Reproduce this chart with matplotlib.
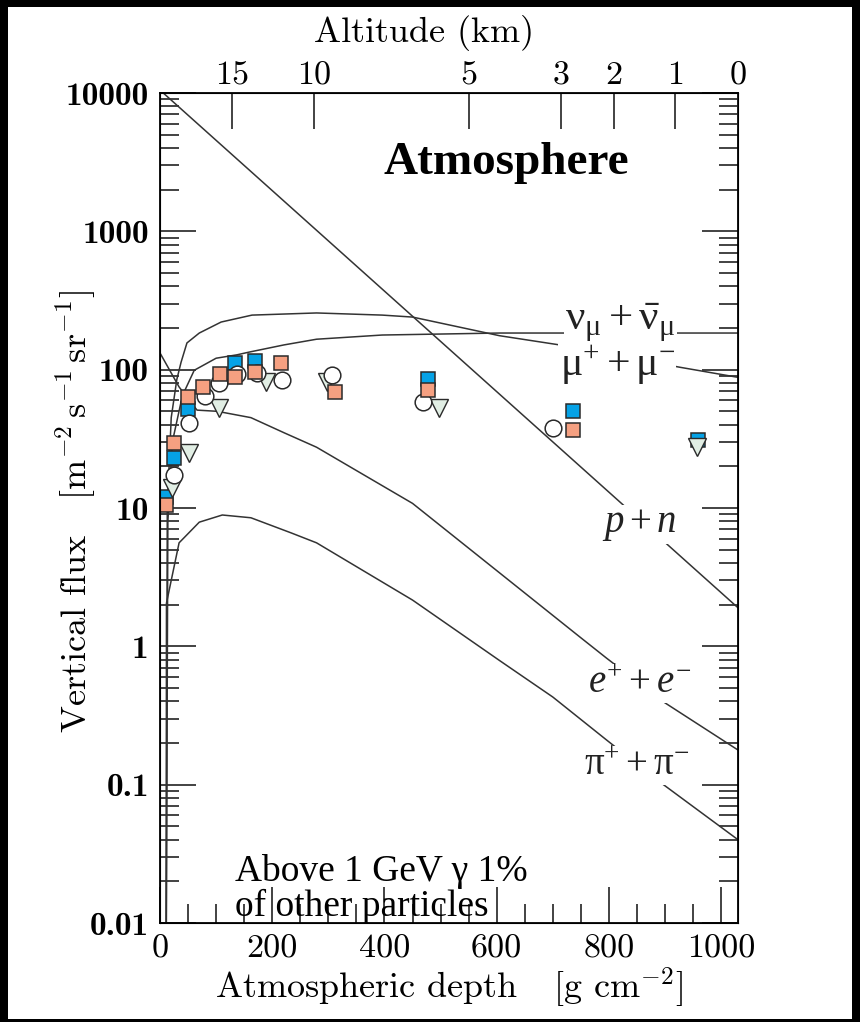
import matplotlib
matplotlib.use("Agg")
import matplotlib.pyplot as plt
from matplotlib.patches import Rectangle

plt.rcParams['font.family'] = 'cmr10'
plt.rcParams['mathtext.fontset'] = 'cm'
plt.rcParams['axes.formatter.use_mathtext'] = True
plt.rcParams['mathtext.rm'] = 'Liberation Serif'
plt.rcParams['mathtext.it'] = 'Liberation Serif:italic'

# curves: depth [g cm^-2] vs vertical flux [m^-2 s^-1 sr^-1]
pn_depth = [0, 1030]
pn_flux = [10500, 1.9]

mu_depth = [11, 13, 20, 30, 37.5, 48, 70, 109, 164, 279, 396, 450, 605, 712, 927, 1030]
mu_flux = [0.005, 10, 45, 85, 113, 156, 184, 221, 248, 257, 248, 240, 176, 151, 104, 88]

nu_depth = [11, 14, 22, 40, 61, 100, 137, 159, 221, 279, 396, 605, 1030]
nu_flux = [0.005, 8, 30, 65, 99, 121, 128, 134, 151, 166, 178, 184, 184]

e_depth = [0, 34, 66, 102, 162, 221, 279, 450, 605, 748, 796, 900, 1030]
e_flux = [132, 75, 51, 50, 45, 35, 27.5, 10.8, 3.4, 1.17, 0.82, 0.39, 0.178]

pi_depth = [11, 11.5, 34, 70, 111, 162, 234, 279, 450, 605, 700, 796, 886, 1030]
pi_flux = [0.005, 2.05, 5.6, 7.9, 8.9, 8.5, 6.6, 5.6, 2.16, 0.79, 0.43, 0.21, 0.108, 0.040]

# measurements
blue_depth = [11, 25, 50, 134, 170, 477, 736, 959]
blue_flux = [12, 23, 52, 112, 115, 85, 50, 31]

salmon_depth = [11, 25, 50, 77, 107, 134, 170, 216, 312, 477, 736]
salmon_flux = [10.5, 29.5, 63, 75, 93, 88.5, 96, 112, 69, 71, 36.6]

circ_depth = [25, 52, 80, 105, 137, 173, 218, 307, 468, 700]
circ_flux = [17.3, 41, 65, 80, 93, 95, 84, 91.5, 58, 37.8]

tri_depth = [21, 52, 105, 189, 298, 498, 957]
tri_flux = [14, 25, 53, 81, 81, 53, 27.5]

y_ticks = [0.01, 0.1, 1, 10, 100, 1000, 10000]
y_labels = ['0.01', '0.1', '1', '10', '100', '1000', '10000']
x_ticks = [0, 200, 400, 600, 800, 1000]
alt_depth = [129, 275, 550, 714, 809, 918, 1030]
alt_labels = ['15', '10', '5', '3', '2', '1', '0']

fig = plt.figure(figsize=(8.6, 10.22), dpi=100, facecolor='black')
fig.patches.append(Rectangle((8 / 860, 3 / 1022), 844 / 860, 1012 / 1022,
                             transform=fig.transFigure, facecolor='white',
                             edgecolor='none', zorder=-10))
ax = fig.add_axes([160 / 860, 99 / 1022, 578 / 860, 830 / 1022])

lc = '#333333'
for d, f in [(pn_depth, pn_flux), (mu_depth, mu_flux), (nu_depth, nu_flux),
             (e_depth, e_flux), (pi_depth, pi_flux)]:
    ax.plot(d, f, color=lc, lw=1.1, zorder=2)

ec = '#2a2a2a'
ax.plot(blue_depth, blue_flux, 's', ms=10.5, mfc='#05A2E6', mec=ec, mew=1.1, zorder=3)
ax.plot(tri_depth, tri_flux, 'v', ms=13, mfc='#E1EEE4', mec=ec, mew=1.0, zorder=4)
ax.plot(circ_depth, circ_flux, 'o', ms=12, mfc='white', mec=ec, mew=1.1, zorder=5)
ax.plot(salmon_depth, salmon_flux, 's', ms=10.5, mfc='#F5A081', mec=ec, mew=1.1, zorder=6)

ax.set_yscale('log')
ax.set_xlim(0, 1030)
ax.set_ylim(0.01, 10000)
ax.set_yticks(y_ticks, y_labels, fontfamily='cmb10', fontsize=24)
ax.set_xticks(x_ticks, [str(v) for v in x_ticks], fontsize=24.5)
ax.set_xticks(range(50, 1030, 50), minor=True)
ax.tick_params(which='both', direction='in', right=True, top=False, width=1.2, color='#222')
ax.tick_params(which='major', length=26, pad=8)
ax.tick_params(which='minor', length=14)
for s in ax.spines.values():
    s.set_linewidth(1.3)

ax.set_xlabel(r'Atmospheric depth   [g cm$^{-2}$]', fontsize=26)
ax.xaxis.set_label_coords(0.50, -0.052)
ax.set_ylabel(r'Vertical flux   [$\mathrm{m^{-2}\,s^{-1}\,sr^{-1}}$]', fontsize=26)
ax.yaxis.set_label_coords(-0.108, 0.496)

ax2 = ax.twiny()
ax2.set_xlim(ax.get_xlim())
ax2.set_xticks(alt_depth, alt_labels, fontsize=24.5)
ax2.tick_params(direction='in', length=26, width=1.2, pad=2, color='#222')
ax2.set_xlabel('Altitude (km)', fontsize=26)
ax2.xaxis.set_label_coords(0.457, 1.062)

lab = dict(transform=ax.transAxes, ha='center', va='center',
           color='#222', math_fontfamily='custom', zorder=7,
           bbox=dict(facecolor='white', edgecolor='none', pad=1))
ax.text(0.796, 0.724, r'$\mathrm{\nu_{\mu} + \bar{\nu}_{\mu}}$', fontsize=31, **lab)
ax.text(0.791, 0.672, r'$\mathrm{\mu^{+} + \mu^{-}}$', fontsize=30, **lab)
ax.text(0.830, 0.480, r'$p + n$', fontsize=28, **lab)
ax.text(0.830, 0.289, r'$e^{+} + e^{-}$', fontsize=28, **lab)
ax.text(0.825, 0.190, r'$\mathrm{\pi^{+} + \pi^{-}}$', fontsize=28, **lab)

ax.text(0.599, 0.916, 'Atmosphere', transform=ax.transAxes, ha='center',
        va='center', fontsize=34, fontweight='bold', family='Liberation Serif')
ax.text(0.13, 0.083, 'Above 1 GeV γ 1%\nof other particles', transform=ax.transAxes,
        ha='left', va='top', fontsize=27, family='Liberation Serif',
        linespacing=1.0, zorder=8)

fig.savefig('out.png', dpi=100, facecolor=fig.get_facecolor())
